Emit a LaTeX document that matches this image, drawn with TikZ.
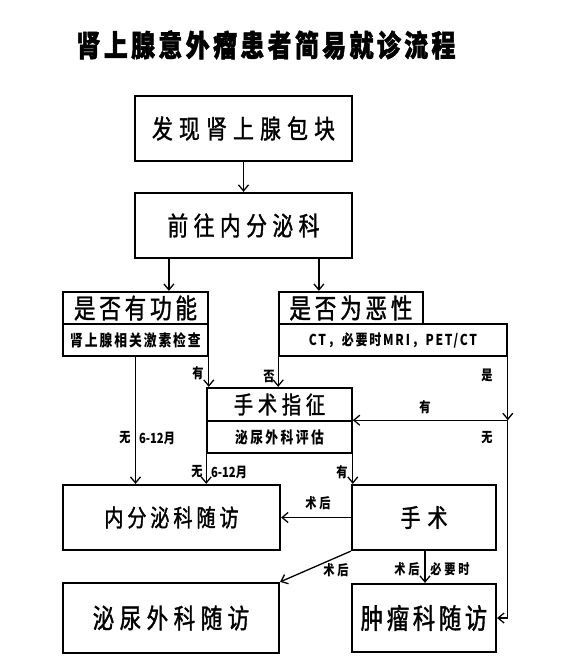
\documentclass[tikz,border=0pt]{standalone}
\usepackage{fontspec}
\newfontfamily\cjk{Noto Sans CJK SC}[FakeStretch=0.8]
\newfontfamily\cjkm{Noto Sans CJK SC}[FakeStretch=0.8, FakeBold=1.3]
\usetikzlibrary{arrows.meta}
\newcommand\txt[3]{\fontsize{#1}{#1}\selectfont\addfontfeature{LetterSpace=#2}#3}
\begin{document}
\begin{tikzpicture}[x=1pt,y=-1pt,
  box/.style={draw, line width=2.2pt, rectangle, inner sep=0pt, font=\cjkm},
  subbox/.style={draw, line width=1.6pt, rectangle, inner sep=0pt, font=\cjk\bfseries},
  arr/.style={line width=1.3pt, -{Straight Barb[length=6pt,width=10pt,line width=1.3pt]}},
  lbl/.style={inner sep=0pt, font=\cjk\bfseries\fontsize{14}{14}\selectfont}]
\useasboundingbox (0,0) rectangle (560,664);
\fill[white] (0,0) rectangle (560,664);

\node[font=\cjk\bfseries, inner sep=0pt] (title) at (266,45) {\txt{30}{11}{\addfontfeature{FakeBold=1.5}肾上腺意外瘤患者简易就诊流程}};

\node[box, minimum width=217pt, minimum height=65pt] (b1) at (243.5,128.5) {\txt{26}{24}{发现肾上腺包块}};
\node[box, minimum width=217pt, minimum height=65pt] (b2) at (243.5,225.5) {\txt{26}{21}{前往内分泌科}};

\node[box, minimum width=145pt, minimum height=32pt] (funcT) at (135.5,308) {\txt{27}{14}{是否有功能}};
\node[subbox, minimum width=145pt, minimum height=32pt] (funcB) at (135.5,340) {\txt{16}{12}{肾上腺相关激素检查}};

\node[box, minimum width=144pt, minimum height=32pt] (malT) at (351,308) {\txt{27}{14}{是否为恶性}};
\node[subbox, minimum width=228pt, minimum height=32pt] (malB) at (393,340) {\txt{15}{12}{CT，必要时MRI，PET/CT}};

\node[box, minimum width=145pt, minimum height=33pt] (indT) at (279.5,404.5) {\txt{24}{20}{手术指征}};
\node[subbox, minimum width=145pt, minimum height=32pt] (indB) at (279.5,437) {\txt{16}{15}{泌尿外科评估}};

\node[box, minimum width=217pt, minimum height=65pt] (endoF) at (171.5,517.5) {\txt{24}{16}{内分泌科随访}};
\node[box, minimum width=144pt, minimum height=65pt] (surg) at (424,517.5) {\txt{25}{28}{手术}};
\node[box, minimum width=216pt, minimum height=70pt] (uroF) at (171,618) {\txt{27}{20}{泌尿外科随访}};
\node[box, minimum width=144pt, minimum height=68pt] (oncoF) at (424,618) {\txt{28}{13}{肿瘤科随访}};

\draw[arr] (b1.south) -- (b2.north);
\draw[arr] ([xshift=35pt]b2.south west) -- ([xshift=35pt]b2.south west |- funcT.north);
\draw[arr] ([xshift=185pt]b2.south west) -- ([xshift=185pt]b2.south west |- malT.north);
\draw[arr] (funcB.south) -- (funcB.south |- endoF.north);
\draw[arr] (funcB.south east) -- (funcB.south east |- indT.north);
\draw[arr] (malB.south west) -- (malB.south west |- indT.north);
\coordinate (j) at (malB.south east |- indB.north);
\draw[arr] (malB.south east) -- (j);
\draw[arr] (j) -- (indB.north east);
\draw[arr] (j) -- (j |- oncoF.east) -- (oncoF.east);
\draw[arr] (indB.south west) -- (indB.south west |- endoF.north);
\draw[arr] (indB.south east) -- (indB.south east |- surg.north);
\draw[arr] (surg.west) -- (endoF.east);
\draw[arr] (surg.south west) -- (uroF.north east);
\draw[arr] ([xshift=1pt]surg.south) -- ([xshift=1pt]oncoF.north);

\node[lbl] (l1) at (198,373) {有};
\node[lbl] (l2) at (269,376) {否};
\node[lbl] (l3) at (487,375) {是};
\node[lbl] (l4) at (425,407) {有};
\node[lbl] (l5) at (487,438) {无};
\node[lbl] (l6) at (125,438) {无};
\node[lbl] (l7) at (157,438) {6-12月};
\node[lbl] (l8) at (197,472) {无};
\node[lbl] (l9) at (229,472) {6-12月};
\node[lbl] (l10) at (342,472) {有};
\node[lbl] (l11) at (318,503) {\addfontfeature{LetterSpace=20}术后};
\node[lbl] (l12) at (336,570) {\addfontfeature{LetterSpace=20}术后};
\node[lbl] (l13) at (407,569) {\addfontfeature{LetterSpace=20}术后};
\node[lbl] (l14) at (450,569) {\addfontfeature{LetterSpace=20}必要时};
\end{tikzpicture}
\end{document}
